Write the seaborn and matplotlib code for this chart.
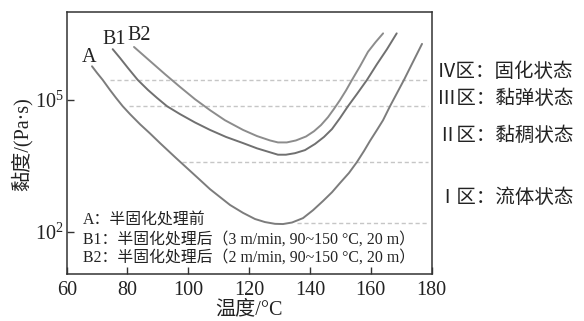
import numpy as np
import pandas as pd
import matplotlib
matplotlib.use("Agg")
import matplotlib.pyplot as plt
import seaborn as sns

# ---- data (temperature °C, log10 viscosity) ----
temp_A = [68.32, 69.97, 71.84, 74.24, 76.22, 78.42, 80.82, 84.11, 87.40, 90.69,
          93.32, 95.95, 99.90, 103.85, 107.14, 110.43, 113.72, 118.0, 121.94,
          125.23, 128.52, 131.15, 134.11, 137.73, 141.02, 144.31, 147.27,
          149.90, 152.86, 155.49, 157.80, 159.77, 162.07, 164.05, 166.35,
          168.65, 170.95, 173.91, 176.88]
logv_A = [5.77, 5.62, 5.46, 5.23, 5.05, 4.86, 4.68, 4.45, 4.24, 4.02,
          3.85, 3.68, 3.43, 3.18, 2.97, 2.79, 2.61, 2.43, 2.29,
          2.22, 2.18, 2.175, 2.21, 2.31, 2.49, 2.70, 2.90,
          3.11, 3.34, 3.59, 3.84, 4.07, 4.32, 4.54, 4.86,
          5.16, 5.46, 5.87, 6.28]

temp_B1 = [75.13, 77.53, 80.16, 83.36, 86.74, 89.70, 92.99, 97.27, 102.20,
           107.14, 112.40, 118.0, 122.60, 126.88, 129.50, 132.10, 135.10,
           138.39, 141.68, 144.64, 147.27, 149.90, 152.53, 155.49, 158.78,
           162.07, 165.36, 168.55]
logv_B1 = [6.16, 5.96, 5.73, 5.46, 5.23, 5.05, 4.86, 4.68, 4.49,
           4.32, 4.16, 4.02, 3.90, 3.81, 3.755, 3.755, 3.79,
           3.86, 4.00, 4.16, 4.34, 4.59, 4.86, 5.14, 5.46,
           5.82, 6.16, 6.52]

temp_B2 = [82.14, 87.40, 92.34, 97.27, 102.20, 107.14, 112.07, 118.0, 122.60,
           126.88, 129.50, 132.40, 135.40, 138.72, 141.35, 143.65, 145.95,
           147.93, 149.90, 151.88, 153.85, 156.48, 159.11, 161.60, 164.08]
logv_B2 = [6.21, 5.89, 5.59, 5.30, 5.02, 4.77, 4.54, 4.32, 4.18,
           4.08, 4.035, 4.035, 4.08, 4.17, 4.29, 4.43, 4.61,
           4.80, 5.00, 5.22, 5.46, 5.77, 6.10, 6.32, 6.52]

# zone boundary lines (log10 viscosity, start temperature)
zone_logv = [5.456, 4.863, 3.588, 2.205]
zone_start = [74.2, 80.5, 97.9, 135.8]
zone_end = 178.8

curve_names = ["A", "B1", "B2"]
zone_labels = ["Ⅳ区：固化状态", "Ⅲ区：黏弹状态", "Ⅱ区：黏稠状态", "Ⅰ区：流体状态"]
legend_lines = ["A：半固化处理前",
                "B1：半固化处理后（3 m/min, 90~150 °C, 20 m）",
                "B2：半固化处理后（2 m/min, 90~150 °C, 20 m）"]
xticks = [60, 80, 100, 120, 140, 160, 180]
yticks = [1e2, 1e5]

# ---- build long table ----
frames = []
for name, t, lv in zip(curve_names, [temp_A, temp_B1, temp_B2],
                       [logv_A, logv_B1, logv_B2]):
    frames.append(pd.DataFrame({"temp": t, "visc": 10 ** np.array(lv), "curve": name}))
df = pd.concat(frames, ignore_index=True)

sns.set_style("ticks")
FAM = ["Liberation Serif", "Noto Sans CJK SC", "DejaVu Sans"]
plt.rcParams["font.family"] = FAM
plt.rcParams["mathtext.fontset"] = "custom"
plt.rcParams["mathtext.rm"] = "Liberation Serif"
plt.rcParams["axes.unicode_minus"] = False

W, H = 584, 321
fig = plt.figure(figsize=(W / 100, H / 100), dpi=100)
L, R, T, B = 66.7, 431.5, 12.3, 274.3
ax = fig.add_axes([L / W, 1 - B / H, (R - L) / W, (B - T) / H])

TXT = "#222222"
for lv, xs in zip(zone_logv, zone_start):
    ax.hlines(10 ** lv, xs, zone_end, colors="#c6c6c6", linestyles=(0, (3, 2)),
              linewidth=1.0, zorder=1)

sns.lineplot(data=df, x="temp", y="visc", hue="curve", sort=False,
             palette={"A": "#7c7c7c", "B1": "#707070", "B2": "#8c8c8c"},
             linewidth=1.4, legend=False, ax=ax, zorder=3)

ax.set_yscale("log")
ax.set_xlim(60, 180)
ax.set_ylim(10 ** 1.03, 1e7)
ax.set_xticks(xticks)
ax.set_yticks(yticks)
ax.yaxis.set_minor_locator(matplotlib.ticker.NullLocator())
ax.tick_params(direction="in", length=5, width=1.0, color="#333333",
               labelsize=14.5, labelcolor=TXT)
ax.tick_params(axis="x", pad=5)
ax.tick_params(axis="y", pad=2)
for s in ax.spines.values():
    s.set_color("#333333")
    s.set_linewidth(1.1)
ax.set_xlabel("")
ax.set_ylabel("")

def fx(px):
    return px / W

def fy(py):
    return 1 - py / H

fig.text(fx(249), fy(310), "温度/°C", ha="center", va="center", fontsize=14.5, color=TXT)
fig.text(fx(22), fy(144), "黏度/(Pa·s)", ha="center", va="center", rotation=90,
         fontsize=14.5, color=TXT)

for name, (px, py) in zip(curve_names, [(89, 57), (114, 39), (139, 35)]):
    fig.text(fx(px), fy(py), name, ha="center", va="center", fontsize=14.5, color=TXT)

for lab, py in zip(zone_labels, [72, 99, 136, 198]):
    fig.text(fx(437), fy(py), lab, ha="left", va="center", fontsize=14, color=TXT)

for lab, py in zip(legend_lines, [221, 240, 258]):
    fig.text(fx(83), fy(py), lab, ha="left", va="center", fontsize=11.4, color=TXT)

fig.savefig("out.png", dpi=100, facecolor="white")
